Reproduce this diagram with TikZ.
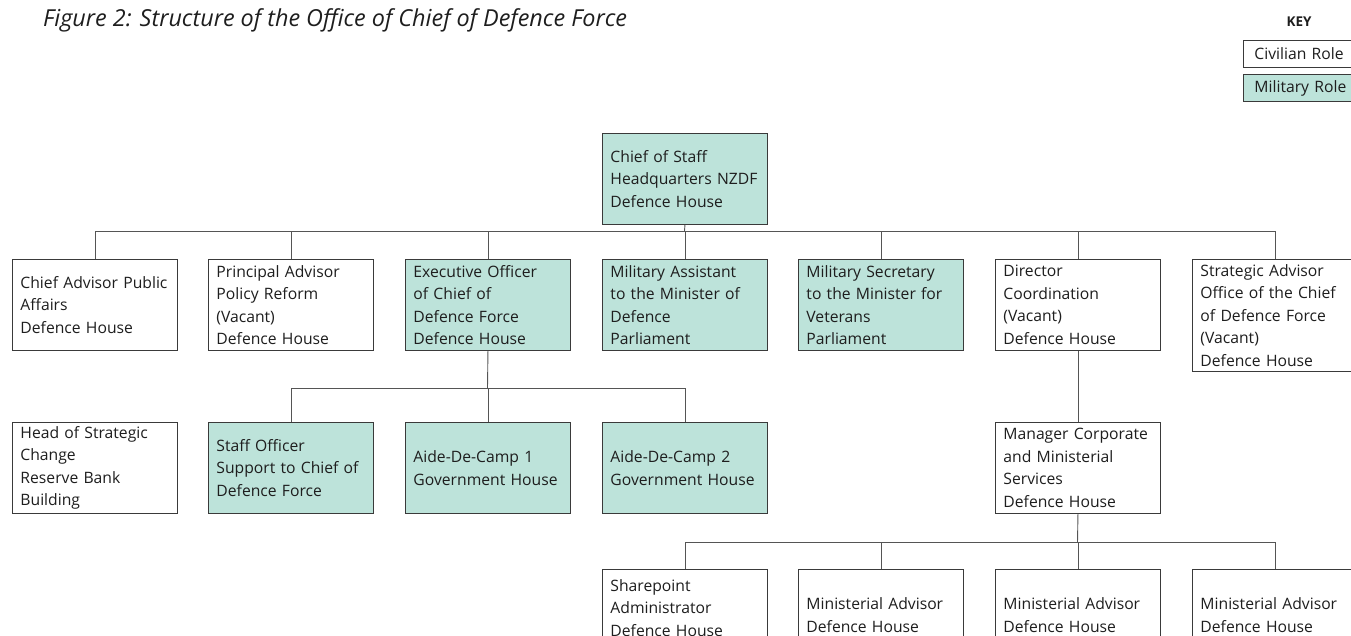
\documentclass[tikz,border=0pt]{standalone}
\usepackage{fontspec}
\setmainfont{Open Sans}
\definecolor{mil}{HTML}{BDE3DA}
\definecolor{bord}{HTML}{3A3A3A}
\definecolor{conn}{HTML}{555555}
\definecolor{txt}{HTML}{1E1E1E}
\begin{document}
\begin{tikzpicture}[x=1pt,y=-1pt,
  box/.style={draw=bord,line width=0.9pt,anchor=north west,minimum width=165pt,minimum height=91pt,
    text width=149pt,align=left,inner xsep=8pt,inner ysep=0pt,text=txt,
    font=\fontsize{15.7}{22.5}\selectfont},
  civ/.style={box,fill=white},
  mili/.style={box,fill=mil},
  conline/.style={draw=conn,line width=0.9pt},
  keybox/.style={draw=bord,line width=0.9pt,anchor=north west,minimum width=120pt,text width=104pt,
    align=left,inner xsep=11pt,inner ysep=0pt,minimum height=27pt,text=txt,font=\fontsize{15.7}{18}\selectfont}]
\useasboundingbox (0,0) rectangle (1351,635);
\clip (0,0) rectangle (1351,635);
% title
\node[anchor=base west,inner sep=0pt,text=txt,font=\fontsize{23.4}{28}\selectfont\itshape] (title) at (43,26.5) {Figure 2: Structure of the Office of Chief of Defence Force};
% key
\node[inner sep=0pt,text=txt,font=\fontsize{13.5}{16}\selectfont\bfseries] (key) at (1299,22) {KEY};
\node[keybox,fill=white] (kc) at (1243,40) {Civilian Role};
\node[keybox,fill=mil] (km) at (1243,74) {Military Role};
% top
\node[mili] (top) at (602,133) {Chief of Staff\\Headquarters NZDF\\Defence House};
% row 2
\node[civ] (r1) at (12,259) {Chief Advisor Public\\Affairs\\Defence House};
\node[civ] (r2) at (208,259) {Principal Advisor\\Policy Reform\\(Vacant)\\Defence House};
\node[mili] (r3) at (405,259) {Executive Officer\\of Chief of\\Defence Force\\Defence House};
\node[mili] (r4) at (602,259) {Military Assistant\\to the Minister of\\Defence\\Parliament};
\node[mili] (r5) at (798,259) {Military Secretary\\to the Minister for\\Veterans\\Parliament};
\node[civ] (r6) at (995,259) {Director\\Coordination\\(Vacant)\\Defence House};
\node[civ,minimum height=112pt] (r7) at (1192,259) {Strategic Advisor\\Office of the Chief\\of Defence Force\\(Vacant)\\Defence House};
% row 3
\node[civ] (h) at (12,422) {Head of Strategic\\Change\\Reserve Bank\\Building};
\node[mili] (s1) at (208,422) {Staff Officer\\Support to Chief of\\Defence Force};
\node[mili] (s2) at (405,422) {Aide-De-Camp 1\\Government House};
\node[mili] (s3) at (602,422) {Aide-De-Camp 2\\Government House};
\node[civ] (m) at (995,422) {Manager Corporate\\and Ministerial\\Services\\Defence House};
% row 4
\node[civ,minimum height=77pt] (t1) at (602,569) {Sharepoint\\Administrator\\Defence House};
\node[civ] (t2) at (798,569) {Ministerial Advisor\\Defence House};
\node[civ] (t3) at (995,569) {Ministerial Advisor\\Defence House};
\node[civ] (t4) at (1192,569) {Ministerial Advisor\\Defence House};
% connectors
\coordinate (b1) at (684.5,231);
\coordinate (b2) at (487.5,388);
\coordinate (b3) at (1077.5,542);
\draw[conline] (top.south) -- (b1);
\foreach \c in {r1,r2,r3,r4,r5,r6,r7} \draw[conline] (b1) -| (\c.north);
\draw[conline] (r3.south) -- (b2);
\foreach \c in {s1,s2,s3} \draw[conline] (b2) -| (\c.north);
\draw[conline] (r6.south) -- (m.north);
\draw[conline] (m.south) -- (b3);
\foreach \c in {t1,t2,t3,t4} \draw[conline] (b3) -| (\c.north);
\end{tikzpicture}
\end{document}
